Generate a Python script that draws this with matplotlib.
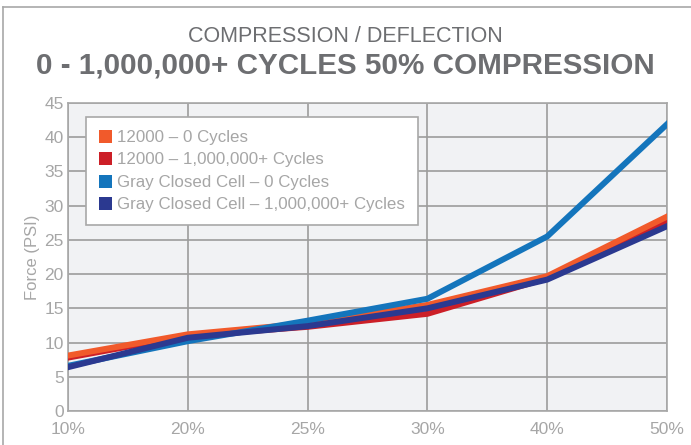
import matplotlib.pyplot as plt
from matplotlib.lines import Line2D
from matplotlib.patches import Patch

plt.rcParams['font.family'] = ['Liberation Sans', 'DejaVu Sans']

categories = ['10%', '20%', '25%', '30%', '40%', '50%']
s12000_0 = [8.1, 11.2, 12.8, 15.5, 19.7, 28.4]
s12000_1m = [7.8, 11.0, 12.3, 14.2, 19.4, 27.6]
gray_0 = [6.6, 10.2, 13.2, 16.4, 25.5, 41.9]
gray_1m = [6.4, 10.7, 12.4, 15.0, 19.2, 27.0]

names = ['12000 \u2013 0 Cycles', '12000 \u2013 1,000,000+ Cycles',
         'Gray Closed Cell \u2013 0 Cycles', 'Gray Closed Cell \u2013 1,000,000+ Cycles']
colors = ['#F15A2B', '#CC1F27', '#1475BC', '#2B3990']
series = [s12000_0, s12000_1m, gray_0, gray_1m]

fig = plt.figure(figsize=(6.91, 4.45), dpi=100)
ax = fig.add_axes([68/691, 1 - 411/445, (667-68)/691, (411-103)/445])
ax.set_facecolor('#F1F2F4')

x = list(range(len(categories)))
order = [1, 0, 2, 3]
for i in order:
    ax.plot(x, series[i], color=colors[i], lw=4.3, solid_joinstyle='miter', zorder=3)

ax.set_xlim(0, len(categories) - 1)
ax.set_ylim(0, 45)
ax.set_yticks(range(0, 46, 5))
ax.set_xticks(x)
ax.set_xticklabels(categories)
ax.grid(True, color='#9C9C9C', lw=1.2, zorder=1)
ax.set_axisbelow(True)
for s in ax.spines.values():
    s.set_color('#A8A8A8')
    s.set_linewidth(1.2)
ax.tick_params(length=0, labelsize=12.5, labelcolor='#A6A6A6')
ax.tick_params(axis='y', pad=3)
ax.tick_params(axis='x', pad=8)
ax.set_ylabel('Force (PSI)', color='#A6A6A6', fontsize=12, labelpad=3)

handles = [Patch(facecolor=c, edgecolor='none') for c in colors]
leg = ax.legend(handles, names, loc='upper left', bbox_to_anchor=(0.030, 0.955),
                fontsize=12.2, labelcolor='#A6A6A6', frameon=True, fancybox=False,
                handlelength=0.8, handleheight=0.8, handletextpad=0.3,
                labelspacing=0.42, borderpad=0.75, borderaxespad=0,
                facecolor='white', framealpha=1)
leg.get_frame().set_edgecolor('#A8A8A8')
leg.get_frame().set_linewidth(1.2)

fig.text(0.5, 1 - 37/445, 'COMPRESSION / DEFLECTION', ha='center', va='center',
         fontsize=15.5, color='#6D6E71')
fig.text(0.5, 1 - 65/445, '0 - 1,000,000+ CYCLES 50% COMPRESSION', ha='center',
         va='center', fontsize=21.3, fontweight='bold', color='#6D6E71')

# frame lines (top and left)
fig.add_artist(Line2D([3/691, 1], [1 - 7/445, 1 - 7/445], color='#A8A8A8', lw=1.2))
fig.add_artist(Line2D([3/691, 3/691], [0, 1 - 7/445], color='#A8A8A8', lw=1.2))

fig.savefig('out.png', dpi=100)
